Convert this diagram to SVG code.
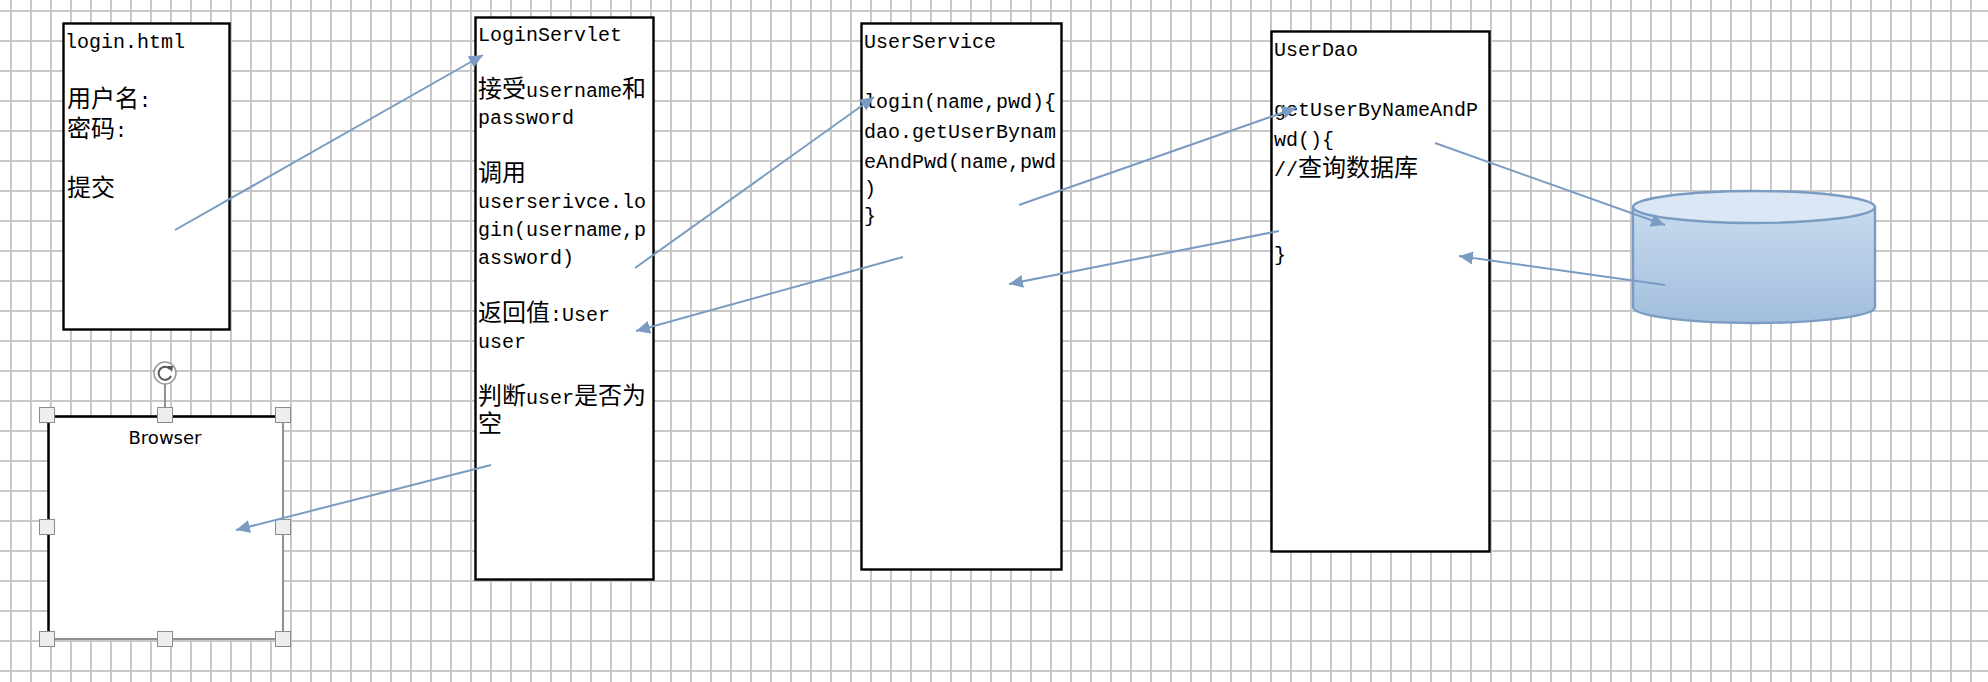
<svg xmlns="http://www.w3.org/2000/svg" width="1988" height="682" viewBox="0 0 1988 682">
<style>
.box{fill:#fff;stroke:#000;stroke-width:2.4}
.t{font-family:"Liberation Mono","Noto Sans CJK SC",monospace;font-size:20px;fill:#000}
.c{font-family:"Noto Sans CJK SC","Liberation Serif",sans-serif;font-size:24px;fill:#000}
.conn{fill:none;stroke:#7a9cc2;stroke-width:2;marker-end:url(#arrow)}
.h{fill:#eee;stroke:#8c8c8c;stroke-width:1}
</style>
<defs>
<pattern id="grid" width="20" height="30" patternUnits="userSpaceOnUse">
<path d="M11 0V30M0 11H20" fill="none" stroke="#c8c8c8" stroke-width="2"/>
</pattern>
<marker id="arrow" markerUnits="userSpaceOnUse" markerWidth="15" markerHeight="14" refX="14" refY="7" orient="auto">
<path d="M0 0.500L14 7L0 13.500Z" fill="#7a9cc2"/>
</marker>
<linearGradient id="cyl" x1="0" y1="0" x2="0" y2="1">
<stop offset="0" stop-color="#c8daee"/><stop offset="1" stop-color="#a2bedd"/>
</linearGradient>
</defs>
<rect width="1988" height="682" fill="#fff"/>
<rect width="1988" height="682" fill="url(#grid)"/>
<g id="login"><rect class="box" x="63.500" y="23.500" width="166" height="306"/>
<text class="t" x="65" y="48">login.html</text>
<text class="c" x="67" y="107">用户名<tspan class="t" x="139">:</tspan></text>
<text class="c" x="67" y="137">密码<tspan class="t" x="115">:</tspan></text>
<text class="c" x="67" y="196">提交</text></g>
<g id="servlet"><rect class="box" x="475.500" y="17.500" width="178" height="562"/>
<text class="t" x="478" y="41">LoginServlet</text>
<text class="c" x="478" y="97">接受<tspan class="t" x="526">username</tspan><tspan x="622">和</tspan></text>
<text class="t" x="478" y="124">password</text>
<text class="c" x="478" y="181">调用</text>
<text class="t" x="478" y="208">userserivce.lo</text>
<text class="t" x="478" y="236">gin(username,p</text>
<text class="t" x="478" y="264">assword)</text>
<text class="c" x="478" y="321">返回值<tspan class="t" x="550">:User</tspan></text>
<text class="t" x="478" y="348">user</text>
<text class="c" x="478" y="404">判断<tspan class="t" x="526">user</tspan><tspan x="574">是否为</tspan></text>
<text class="c" x="478" y="432">空</text></g>
<g id="service"><rect class="box" x="861.500" y="23.500" width="200" height="546"/>
<text class="t" x="864" y="48">UserService</text>
<text class="t" x="864" y="108">login(name,pwd){</text>
<text class="t" x="864" y="138">dao.getUserBynam</text>
<text class="t" x="864" y="168">eAndPwd(name,pwd</text>
<text class="t" x="864" y="195">)</text>
<text class="t" x="864" y="222">}</text></g>
<g id="dao"><rect class="box" x="1271.500" y="31.500" width="218" height="520"/>
<text class="t" x="1274" y="56">UserDao</text>
<text class="t" x="1274" y="116">getUserByNameAndP</text>
<text class="t" x="1274" y="146">wd(){</text>
<text class="t" x="1274" y="176">//<tspan class="c" x="1298">查询数据库</tspan></text>
<text class="t" x="1274" y="261">}</text></g>
<g id="db">
<path d="M1633 207V307C1633 316 1687 323 1754 323S1875 316 1875 307V207Z" fill="url(#cyl)" stroke="#7a9cc2" stroke-width="2.400"/>
<ellipse cx="1754" cy="207" rx="121" ry="16" fill="#dbe7f4" stroke="#7a9cc2" stroke-width="2.400"/></g>
<g id="browser">
<rect x="48.500" y="416.500" width="234.500" height="222.500" fill="#fff" stroke="#909090" stroke-width="2"/>
<path d="M48.500 639V416.500H283" fill="none" stroke="#000" stroke-width="2.400"/>
<text x="128.500" y="444" textLength="73" lengthAdjust="spacingAndGlyphs" style="font-family:'DejaVu Sans','Open Sans',sans-serif;font-size:17.500px;fill:#000">Browser</text>
<path d="M165 384V408" stroke="#909090" stroke-width="2"/>
<circle cx="165" cy="373" r="11" fill="#fff" stroke="#999" stroke-width="1.500"/>
<path d="M170 369A6.500 6.500 0 1 0 171 376" fill="none" stroke="#555" stroke-width="2"/>
<path d="M167 366L173 366L172 372Z" fill="#555"/>
<rect class="h" x="39.500" y="407.500" width="15" height="15"/><rect class="h" x="157.500" y="407.500" width="15" height="15"/><rect class="h" x="275.500" y="407.500" width="15" height="15"/>
<rect class="h" x="39.500" y="519.500" width="15" height="15"/><rect class="h" x="275.500" y="519.500" width="15" height="15"/>
<rect class="h" x="39.500" y="631.500" width="15" height="15"/><rect class="h" x="157.500" y="631.500" width="15" height="15"/><rect class="h" x="275.500" y="631.500" width="15" height="15"/>
</g>
<g id="connectors">
<path class="conn" d="M175 230L483 55"/>
<path class="conn" d="M635 268L874 97"/>
<path class="conn" d="M903 257L636 331"/>
<path class="conn" d="M1019 205L1296 108"/>
<path class="conn" d="M1279 231L1009 284"/>
<path class="conn" d="M1435 143L1665 225"/>
<path class="conn" d="M1665 285L1459 256"/>
<path class="conn" d="M491 465L236 530"/>
</g>
</svg>
